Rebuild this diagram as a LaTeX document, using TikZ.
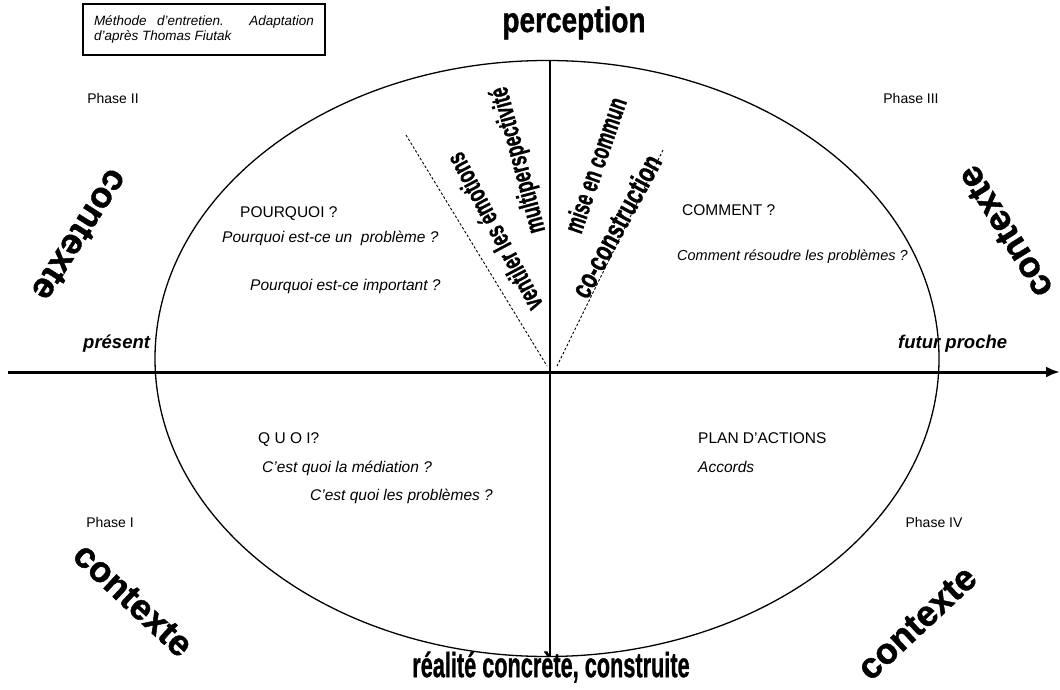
\documentclass[tikz,border=0pt]{standalone}
\usepackage{fontspec}
\usepackage{graphicx}
\setmainfont{Liberation Sans}
\newfontfamily\hvyfont{Liberation Sans Bold}[FakeBold=1.2]
\usetikzlibrary{arrows.meta}
\newcommand{\myfs}[1]{\fontsize{#1}{#1}\selectfont}
\begin{document}
\begin{tikzpicture}[x=1pt,y=-1pt,
  heavy/.style={font=\hvyfont\myfs{27}, inner sep=0pt},
  ctx/.style={font=\hvyfont\myfs{36}, inner sep=0pt},
  title/.style={font=\hvyfont\myfs{35}, inner sep=0pt},
  body/.style={font=\myfs{15.5}, inner sep=0pt, anchor=base west},
  bodyit/.style={font=\myfs{15.5}\itshape, inner sep=0pt, anchor=base west},
  bodybi/.style={font=\myfs{18.5}\bfseries\itshape, inner sep=0pt, anchor=base west},
  phase/.style={font=\myfs{14}, inner sep=0pt},
  axisline/.style={line width=3pt},
  guide/.style={line width=0.9pt, dash pattern=on 2.5pt off 2pt},
]
\useasboundingbox (0,0) rectangle (1060,690);

% ellipse
\draw[line width=1.3pt] (547,358.5) ellipse [x radius=392, y radius=298];

% axes
\coordinate (axL) at (8,372);
\coordinate (axR) at (1060,372);
\coordinate (vT) at (550,60);
\coordinate (vB) at (550,657);
\draw[axisline, -{Latex[length=14pt,width=11pt]}] (axL) -- (axR);
\draw[line width=2.5pt] (vT) -- (vB);

% dashed guides
\coordinate (dL1) at (406,135);
\coordinate (dL2) at (547,366);
\coordinate (dR1) at (663,150);
\coordinate (dR2) at (557,366);
\draw[guide] (dL1) -- (dL2);
\draw[guide] (dR1) -- (dR2);

% reference box
\node[draw, line width=1.2pt, minimum width=242pt, minimum height=51pt,
      text width=220pt, align=justify, inner sep=0pt,
      font=\fontsize{13.5}{15}\selectfont\itshape] (ref) at (204,29.5)
  {M\'ethode d'entretien. Adaptation\linebreak d'apr\`es Thomas Fiutak\par};

% titles
\node[title] (perc) at (574,23) {\scalebox{0.8}[1]{perception}};
\node[title] (real) at (551,667) {\scalebox{0.62}[1]{r\'ealit\'e concr\`ete, construite}};

% phases
\node[phase] (p2) at (113,98) {Phase II};
\node[phase] (p3) at (911,98) {Phase III};
\node[phase] (p1) at (110,522) {Phase I};
\node[phase] (p4) at (934,522) {Phase IV};

% corner contexte
\node[ctx, rotate=-122.5] (c1) at (80,235) {contexte};
\node[ctx, rotate=122] (c2) at (1005,232) {contexte};
\node[ctx, rotate=-43] (c3) at (133,600) {contexte};
\node[ctx, rotate=43] (c4) at (917,623) {contexte};

% rotated central labels
\node[heavy, rotate=118] (ven) at (494,232) {\scalebox{0.65}[1]{ventiler les \'emotions}};
\node[heavy, rotate=105] (mul) at (519,160) {\scalebox{0.65}[1]{multiperspectivit\'e}};
\node[heavy, rotate=71] (mis) at (595,165) {\scalebox{0.64}[1]{mise en commun}};
\node[font=\hvyfont\myfs{29}, inner sep=0pt, rotate=61.5] (coc) at (616,226) {\scalebox{0.72}[1]{co-construction}};

% quadrant texts
\node[body] (pq) at (240,217) {POURQUOI ?};
\node[bodyit] (pq1) at (222,242) {Pourquoi est-ce un\ \ probl\`eme ?};
\node[bodyit] (pq2) at (250,290) {Pourquoi est-ce important ?};

\node[body] (cm) at (682,215) {COMMENT ?};
\node[bodyit, font=\myfs{14.5}\itshape] (cm1) at (677,260) {Comment r\'esoudre les probl\`emes ?};

\node[body] (qu) at (258,443) {Q U O I?};
\node[bodyit] (qu1) at (262,472) {C'est quoi la m\'ediation ?};
\node[bodyit] (qu2) at (310,500) {C'est quoi les probl\`emes ?};

\node[body] (pl) at (698,443) {PLAN D'ACTIONS};
\node[bodyit] (pl1) at (698,472) {Accords};

\node[bodybi] (pres) at (83,348) {pr\'esent};
\node[bodybi] (fut) at (898,348) {futur proche};
\end{tikzpicture}
\end{document}
